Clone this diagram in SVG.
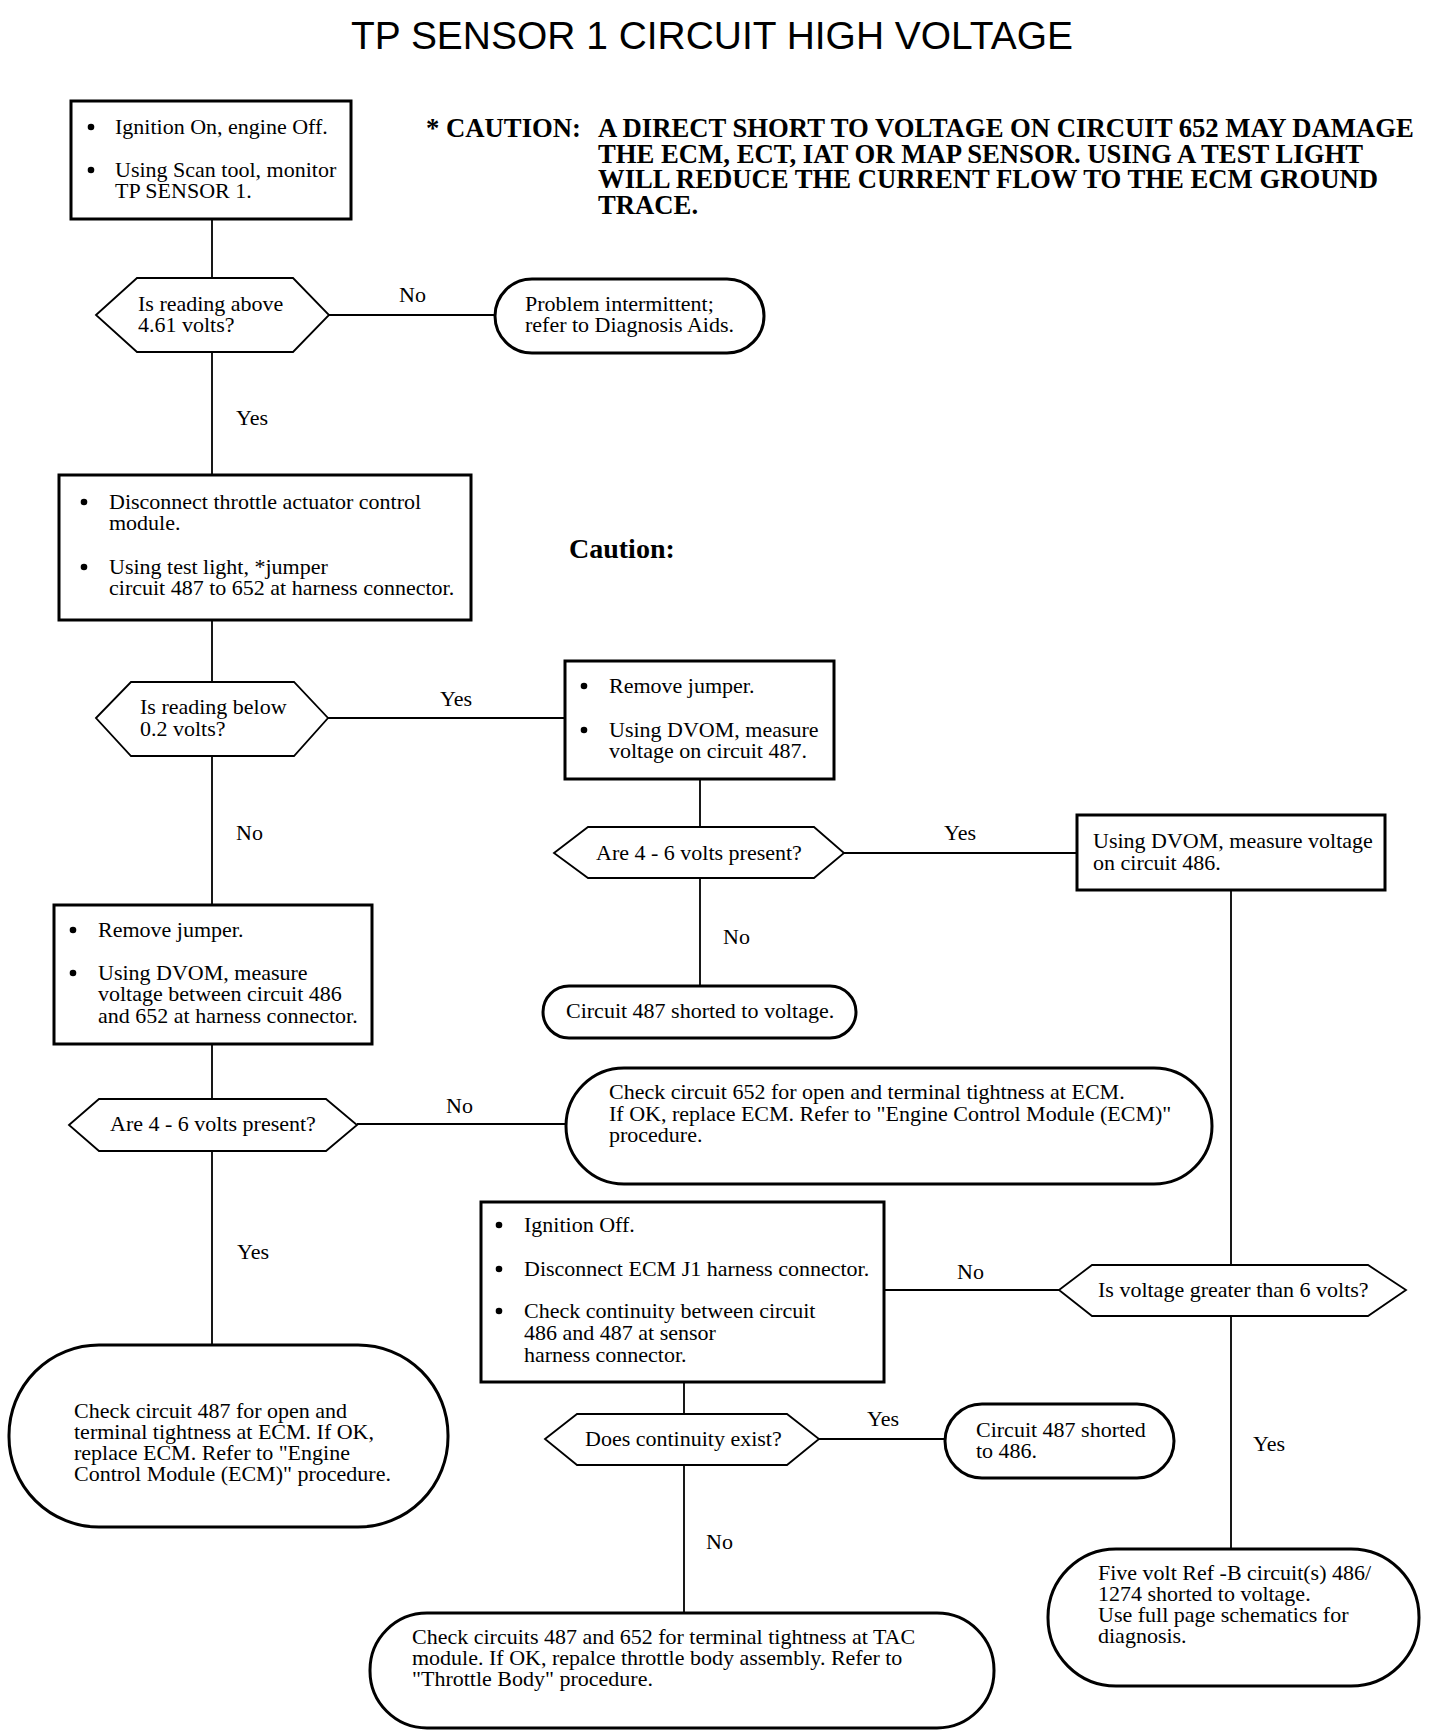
<svg xmlns="http://www.w3.org/2000/svg" width="1440" height="1736" viewBox="0 0 1440 1736">
<style>
.t{font-family:"Liberation Serif","Times New Roman",serif;font-size:22px;fill:#000}
.b{font-family:"Liberation Serif","Times New Roman",serif;font-size:26.7px;font-weight:bold;fill:#000}
.cl{font-family:"Liberation Serif","Times New Roman",serif;font-size:28px;font-weight:bold;fill:#000}
.title{font-family:"Liberation Sans",Arial,sans-serif;font-size:38px;fill:#000}
.box{fill:#fff;stroke:#000;stroke-width:3}
.ov{fill:#fff;stroke:#000;stroke-width:3}
.hx{fill:#fff;stroke:#000;stroke-width:1.8}
.ln{fill:none;stroke:#000;stroke-width:1.8}
.bu{fill:#000}
</style>
<rect width="1440" height="1736" fill="#fff"/>
<text class="title" x="712" y="49" text-anchor="middle" textLength="722" lengthAdjust="spacingAndGlyphs">TP SENSOR 1 CIRCUIT HIGH VOLTAGE</text>
<g id="caution-note">
<text class="b" x="426" y="137">* CAUTION:</text>
<text class="b" y="137"><tspan x="598">A DIRECT SHORT TO VOLTAGE ON CIRCUIT 652 MAY DAMAGE</tspan><tspan x="598" dy="26">THE ECM, ECT, IAT OR MAP SENSOR. USING A TEST LIGHT</tspan><tspan x="598" dy="25">WILL REDUCE THE CURRENT FLOW TO THE ECM GROUND</tspan><tspan x="598" dy="26">TRACE.</tspan></text>
</g>
<g id="caution-label"><text class="cl" x="569" y="558">Caution:</text></g>
<g id="connectors">
<path class="ln" d="M212 219V278M212 352V475M212 620V682M212 756V905M212 1044V1099M212 1151V1345"/>
<path class="ln" d="M329 315H495M328 718H565M357 1124H566"/>
<path class="ln" d="M700 779V827M700 878V986M844 853H1076"/>
<path class="ln" d="M1231 890V1265M1231 1316V1549M884 1290H1059"/>
<path class="ln" d="M684 1382V1414M684 1465V1613M819 1439H945"/>
</g>
<g id="labels">
<text class="t" x="399" y="302">No</text>
<text class="t" x="236" y="425">Yes</text>
<text class="t" x="440" y="706">Yes</text>
<text class="t" x="236" y="840">No</text>
<text class="t" x="944" y="840">Yes</text>
<text class="t" x="723" y="944">No</text>
<text class="t" x="446" y="1113">No</text>
<text class="t" x="237" y="1259">Yes</text>
<text class="t" x="957" y="1279">No</text>
<text class="t" x="867" y="1426">Yes</text>
<text class="t" x="706" y="1549">No</text>
<text class="t" x="1253" y="1451">Yes</text>
</g>
<g id="n1">
<rect class="box" x="71" y="101" width="280" height="118"/>
<circle class="bu" cx="91" cy="127" r="3.3"/><text class="t" x="115" y="134">Ignition On, engine Off.</text>
<circle class="bu" cx="91" cy="170" r="3.3"/><text class="t" y="177"><tspan x="115">Using Scan tool, monitor</tspan><tspan x="115" dy="21">TP SENSOR 1.</tspan></text>
</g>
<g id="d1">
<polygon class="hx" points="96,315 137,278 293,278 329,315 293,352 137,352"/>
<text class="t" y="311"><tspan x="138">Is reading above</tspan><tspan x="138" dy="21">4.61 volts?</tspan></text>
</g>
<g id="t1">
<rect class="ov" x="495" y="279" width="269" height="74" rx="37"/>
<text class="t" y="311"><tspan x="525">Problem intermittent;</tspan><tspan x="525" dy="21">refer to Diagnosis Aids.</tspan></text>
</g>
<g id="n2">
<rect class="box" x="59" y="475" width="412" height="145"/>
<circle class="bu" cx="84" cy="502" r="3.3"/><text class="t" y="509"><tspan x="109">Disconnect throttle actuator control</tspan><tspan x="109" dy="21">module.</tspan></text>
<circle class="bu" cx="84" cy="567" r="3.3"/><text class="t" y="574"><tspan x="109">Using test light, *jumper</tspan><tspan x="109" dy="21">circuit 487 to 652 at harness connector.</tspan></text>
</g>
<g id="d2">
<polygon class="hx" points="96,718 131,682 294,682 328,718 294,756 131,756"/>
<text class="t" y="714"><tspan x="140">Is reading below</tspan><tspan x="140" dy="22">0.2 volts?</tspan></text>
</g>
<g id="n3">
<rect class="box" x="565" y="661" width="269" height="118"/>
<circle class="bu" cx="584" cy="686" r="3.3"/><text class="t" x="609" y="693">Remove jumper.</text>
<circle class="bu" cx="584" cy="730" r="3.3"/><text class="t" y="737"><tspan x="609">Using DVOM, measure</tspan><tspan x="609" dy="21">voltage on circuit 487.</tspan></text>
</g>
<g id="d3">
<polygon class="hx" points="554,853 588,827 814,827 844,853 814,878 588,878"/>
<text class="t" x="596" y="860">Are 4 - 6 volts present?</text>
</g>
<g id="n4">
<rect class="box" x="1077" y="815" width="308" height="75"/>
<text class="t" y="848"><tspan x="1093">Using DVOM, measure voltage</tspan><tspan x="1093" dy="22">on circuit 486.</tspan></text>
</g>
<g id="t2">
<rect class="ov" x="543" y="986" width="313" height="52" rx="26"/>
<text class="t" x="566" y="1018">Circuit 487 shorted to voltage.</text>
</g>
<g id="n5">
<rect class="box" x="54" y="905" width="318" height="139"/>
<circle class="bu" cx="73" cy="930" r="3.3"/><text class="t" x="98" y="937">Remove jumper.</text>
<circle class="bu" cx="73" cy="973" r="3.3"/><text class="t" y="980"><tspan x="98">Using DVOM, measure</tspan><tspan x="98" dy="21">voltage between circuit 486</tspan><tspan x="98" dy="22">and 652 at harness connector.</tspan></text>
</g>
<g id="d4">
<polygon class="hx" points="69,1125 99,1099 326,1099 357,1125 326,1151 99,1151"/>
<text class="t" x="110" y="1131">Are 4 - 6 volts present?</text>
</g>
<g id="t3">
<rect class="ov" x="566" y="1068" width="646" height="116" rx="58"/>
<text class="t" y="1099"><tspan x="609">Check circuit 652 for open and terminal tightness at ECM.</tspan><tspan x="609" dy="22">If OK, replace ECM. Refer to "Engine Control Module (ECM)"</tspan><tspan x="609" dy="21">procedure.</tspan></text>
</g>
<g id="t4">
<rect class="ov" x="9" y="1345" width="439" height="182" rx="90"/>
<text class="t" y="1418"><tspan x="74">Check circuit 487 for open and</tspan><tspan x="74" dy="21">terminal tightness at ECM. If OK,</tspan><tspan x="74" dy="21">replace ECM. Refer to "Engine</tspan><tspan x="74" dy="21">Control Module (ECM)" procedure.</tspan></text>
</g>
<g id="n6">
<rect class="box" x="481" y="1202" width="403" height="180"/>
<circle class="bu" cx="499" cy="1225" r="3.3"/><text class="t" x="524" y="1232">Ignition Off.</text>
<circle class="bu" cx="499" cy="1269" r="3.3"/><text class="t" x="524" y="1276">Disconnect ECM J1 harness connector.</text>
<circle class="bu" cx="499" cy="1311" r="3.3"/><text class="t" y="1318"><tspan x="524">Check continuity between circuit</tspan><tspan x="524" dy="22">486 and 487 at sensor</tspan><tspan x="524" dy="22">harness connector.</tspan></text>
</g>
<g id="d5">
<polygon class="hx" points="1059,1290 1092,1265 1368,1265 1406,1290 1368,1316 1092,1316"/>
<text class="t" x="1098" y="1297">Is voltage greater than 6 volts?</text>
</g>
<g id="d6">
<polygon class="hx" points="545,1439 577,1414 787,1414 819,1439 787,1465 577,1465"/>
<text class="t" x="585" y="1446">Does continuity exist?</text>
</g>
<g id="t5">
<rect class="ov" x="945" y="1404" width="229" height="74" rx="37"/>
<text class="t" y="1437"><tspan x="976">Circuit 487 shorted</tspan><tspan x="976" dy="21">to 486.</tspan></text>
</g>
<g id="t6">
<rect class="ov" x="370" y="1613" width="624" height="115" rx="57"/>
<text class="t" y="1644"><tspan x="412">Check circuits 487 and 652 for terminal tightness at TAC</tspan><tspan x="412" dy="21">module. If OK, repalce throttle body assembly. Refer to</tspan><tspan x="412" dy="21">"Throttle Body" procedure.</tspan></text>
</g>
<g id="t7">
<rect class="ov" x="1048" y="1549" width="371" height="137" rx="68"/>
<text class="t" y="1580"><tspan x="1098">Five volt Ref -B circuit(s) 486/</tspan><tspan x="1098" dy="21">1274 shorted to voltage.</tspan><tspan x="1098" dy="21">Use full page schematics for</tspan><tspan x="1098" dy="21">diagnosis.</tspan></text>
</g>
</svg>
